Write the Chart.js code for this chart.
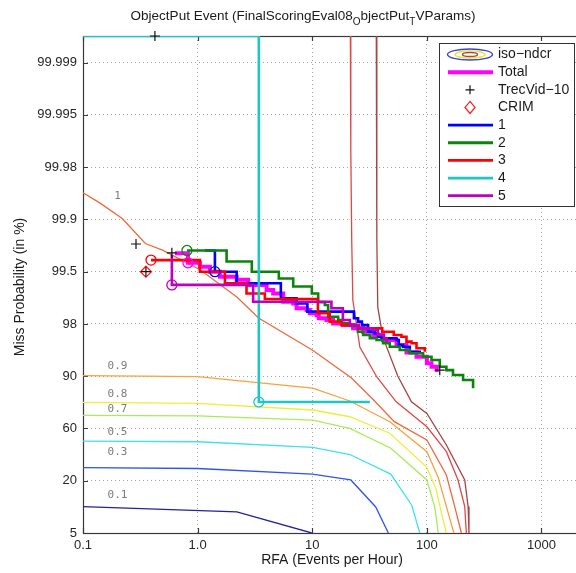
<!DOCTYPE html>
<html>
<head>
<meta charset="utf-8">
<script src="https://cdn.jsdelivr.net/npm/chart.js@4.4.1/dist/chart.umd.min.js"></script>
<style>
  html, body { margin: 0; padding: 0; background: #fff; overflow: hidden; }
</style>
</head>
<body>
<canvas id="det" width="576" height="573"></canvas>
<script>
/* DET plot: ObjectPut event, miss probability vs RFA */

// axes (x = RFA in events per hour, y = Pmiss in %)
const xTickValues = [0.1, 1, 10, 100, 1000];
const xTickLabels = ["0.1", "1.0", "10", "100", "1000"];
const yTickValues = [5, 20, 60, 90, 98, 99.5, 99.9, 99.98, 99.995, 99.999];
const yTickLabels = ["5", "20", "60", "90", "98", "99.5", "99.9", "99.98", "99.995", "99.999"];
const PMISS_TOP = 99.99956;

// iso-ndcr contours
const iso01X = [0.1, 2.2, 9.9];
const iso01Y = [12.9, 11.4, 5];
const iso03X = [0.1, 1.0, 10, 21.7, 35.8, 46.1];
const iso03Y = [32.7, 32.0, 26.8, 20.8, 12.8, 5];
const iso05X = [0.1, 1.0, 10.1, 21.3, 48.4, 73.8, 86.7];
const iso05Y = [52.7, 52.3, 48.6, 43.5, 26.8, 13.3, 5];
const iso07X = [0.1, 1.0, 10.1, 21.3, 48.5, 100, 117, 125.7];
const iso07Y = [71.8, 71.3, 68.0, 60.0, 48.0, 20.8, 12.9, 5];
const iso08X = [0.1, 1.0, 10.1, 21.3, 47.5, 100, 121, 134, 148];
const iso08Y = [80.0, 79.5, 75.5, 70.7, 57.4, 33.0, 17.5, 11.0, 5];
const iso09X = [0.1, 1.0, 10.1, 21.3, 47.5, 100, 125, 148, 172];
const iso09Y = [90.2, 89.9, 86.3, 80.7, 66.6, 45.6, 24.2, 12.9, 5];
const iso1X = [0.1, 0.14, 0.22, 0.35, 0.5, 1.05, 2.2, 3.4, 10, 22, 35, 52, 100, 148, 175, 200];
const iso1Y = [99.956, 99.94, 99.903, 99.79, 99.74, 99.53, 99.02, 98.29, 95.54, 89.5, 80.7, 66.6, 53.4, 25.9, 12.9, 5];
const iso11X = [21.5, 21.7, 22.1, 22.6, 26, 36.6, 54, 100, 148, 187, 214, 221];
const iso11Y = [99.9996, 99.987, 99.81, 98.94, 95.94, 89.8, 80.3, 61.8, 45.6, 20.8, 12.9, 5];
const iso12X = [36.2, 36.6, 37.3, 41.3, 55.7, 73.4, 100, 148, 214, 229, 233];
const iso12Y = [99.9996, 99.81, 98.72, 97.0, 90.06, 80.3, 73.2, 50.2, 20.8, 12.9, 5];

const isoLabels = ["0.1", "0.3", "0.5", "0.7", "0.8", "0.9", "1"];
const isoLabelX = [0.2, 0.2, 0.2, 0.2, 0.2, 0.2, 0.2];
const isoLabelY = [16.1, 45.4, 58.1, 76.1, 84.0, 92.7, 99.951];

// system curves
const totalX = [0.634, 0.823, 1.047, 1.28, 1.565, 2.19, 2.76, 4.0, 4.56, 5.58, 6.82, 7.30, 8.92, 9.53, 10.9, 11.4, 13.3, 15.2, 18.6, 22.7, 27.8, 34.0, 41.5, 54.3, 66.4, 81.2, 100, 109.7, 122];
const totalY = [99.716, 99.62, 99.57, 99.5, 99.43, 99.38, 99.29, 99.19, 99.11, 98.89, 98.84, 98.68, 98.62, 98.49, 98.42, 98.28, 98.2, 98.03, 97.93, 97.71, 97.46, 97.19, 96.72, 96.18, 95.18, 94.52, 93.28, 92.54, 91.2];
const sys1X = [1.158, 1.415, 2.19, 5.32, 7.30, 9.07, 23.1, 25.1, 27.1, 30.7, 35.1, 37.5, 40.2, 54.3, 56.9, 62.0, 71.0, 86.7];
const sys1Y = [99.74, 99.5, 99.32, 98.99, 98.84, 98.56, 98.28, 98.12, 97.93, 97.46, 97.33, 97.04, 96.89, 96.72, 96.18, 95.97, 95.3, 94.95];
const sys2X = [0.807, 1.79, 2.97, 5.11, 6.82, 9.92, 11.26, 12.88, 13.76, 16.82, 18.1, 21.3, 25.0, 27.8, 31.8, 36.4, 41.5, 47.5, 58.0, 71.0, 92.7, 109.7, 129.5, 148, 169, 207, 253];
const sys2Y = [99.74, 99.635, 99.5, 99.40, 99.26, 99.11, 98.88, 98.79, 98.35, 98.2, 98.03, 97.87, 97.46, 97.19, 96.89, 96.72, 96.37, 95.97, 95.54, 95.06, 94.52, 93.93, 92.54, 91.7, 90.36, 88.95, 86.2];
const sys3X = [0.392, 1.047, 1.73, 2.67, 3.86, 11.2, 14.2, 18.0, 25.5, 40.8, 51.4, 60.0, 66.4, 73.4, 81.2, 95.9];
const sys3Y = [99.65, 99.5, 99.32, 99.11, 98.97, 98.5, 98.12, 97.93, 97.71, 97.46, 97.19, 97.04, 96.55, 96.37, 95.77, 95.3];
const sys4X = [0.1, 3.42, 31.8];
const sys4Y = [99.99956, 80.2, 80.2];
const sys5X = [0.596, 0.596, 3.05, 14.7, 18.5, 21.3, 25.0, 34.0, 37.3, 42.1, 44.7];
const sys5Y = [99.70, 99.29, 98.89, 98.68, 98.2, 97.93, 97.71, 97.59, 97.19, 96.89, 96.52];

// markers
const trecvidX = [0.29, 0.354, 0.596, 0.424, 129.5];
const trecvidY = [99.787, 99.5, 99.72, 99.99956, 91.7];
const crimX = [0.354];
const crimY = [99.5];
const decisionX = [0.823, 1.415, 0.807, 0.392, 3.42, 0.596];
const decisionY = [99.62, 99.5, 99.74, 99.65, 80.2, 99.29];

const sysColors = { total: "#ff00ff", s1: "#0000ff", s2: "#0a850a", s3: "#ff0000", s4: "#1fc6c6", s5: "#bf00bf" };
const isoColors = ["#22229a", "#3355e6", "#3fe0f0", "#a8ec5a", "#f0ec3a", "#f7a23e", "#f2683c", "#e04848", "#a84444"];

const FONT = '"Liberation Sans", Arial, Helvetica, sans-serif';

// probability axis: piecewise linear in log10(100 - p) between the tick values
const tickLogs = yTickValues.map((v) => Math.log10(100 - v));
function toAxis(p) {
  const L = Math.log10(Math.max(100 - p, 1e-9));
  let i = 0;
  while (i < tickLogs.length - 2 && L < tickLogs[i + 1]) i++;
  return i + (tickLogs[i] - L) / (tickLogs[i] - tickLogs[i + 1]);
}
function pts(xs, ys) {
  return xs.map((x, i) => ({ x, y: toAxis(ys[i]) }));
}

const isoSets = [
  [iso01X, iso01Y], [iso03X, iso03Y], [iso05X, iso05Y], [iso07X, iso07Y], [iso08X, iso08Y],
  [iso09X, iso09Y], [iso1X, iso1Y], [iso11X, iso11Y], [iso12X, iso12Y],
];

const datasets = [];
isoSets.forEach(([xs, ys], i) => {
  datasets.push({
    data: pts(xs, ys), borderColor: isoColors[i], borderWidth: 1.3,
    pointRadius: 0, fill: false, tension: 0, order: 30,
  });
});

// DET staircases: horizontal run first, then the drop
function sysLine(xs, ys, color, width, order) {
  return {
    data: pts(xs, ys), borderColor: color, borderWidth: width, stepped: "before",
    pointRadius: 0, fill: false, order,
  };
}
datasets.push(sysLine(totalX, totalY, sysColors.total, 4, 12));
datasets.push(sysLine(sys1X, sys1Y, sysColors.s1, 2.6, 11));
datasets.push(sysLine(sys2X, sys2Y, sysColors.s2, 2.6, 10));
datasets.push(sysLine(sys3X, sys3Y, sysColors.s3, 2.6, 9));
datasets.push(sysLine(sys4X, sys4Y, sysColors.s4, 2.6, 8));
datasets.push(sysLine(sys5X, sys5Y, sysColors.s5, 2.6, 7));

datasets.push({
  data: pts(decisionX, decisionY), showLine: false, pointStyle: "circle", pointRadius: 5,
  pointBorderWidth: 1.3, pointBackgroundColor: "rgba(0,0,0,0)",
  pointBorderColor: [sysColors.total, sysColors.s1, sysColors.s2, sysColors.s3, sysColors.s4, sysColors.s5],
  order: 3, clip: false,
});
datasets.push({
  data: pts(crimX, crimY), showLine: false, pointStyle: "rectRot", pointRadius: 5.5,
  pointBorderWidth: 1.3, pointBackgroundColor: "rgba(0,0,0,0)", pointBorderColor: "#ff2020",
  order: 2, clip: false,
});
datasets.push({
  data: pts(trecvidX, trecvidY), showLine: false, pointStyle: "cross", pointRadius: 5,
  pointBorderWidth: 1.2, pointBorderColor: "#111", order: 1, clip: false,
});

const legendItems = [
  { label: "iso\u2212ndcr", kind: "iso" },
  { label: "Total", kind: "line", color: sysColors.total, width: 4 },
  { label: "TrecVid\u221210", kind: "plus" },
  { label: "CRIM", kind: "diamond" },
  { label: "1", kind: "line", color: sysColors.s1, width: 2.8 },
  { label: "2", kind: "line", color: sysColors.s2, width: 2.8 },
  { label: "3", kind: "line", color: sysColors.s3, width: 2.8 },
  { label: "4", kind: "line", color: sysColors.s4, width: 2.8 },
  { label: "5", kind: "line", color: sysColors.s5, width: 2.8 },
];

const isoLabelPlugin = {
  id: "isoLabels",
  beforeDatasetsDraw(chart) {
    const { ctx, scales } = chart;
    ctx.save();
    ctx.font = '11px "DejaVu Sans Mono", monospace';
    ctx.fillStyle = "#7c7c7c";
    ctx.textAlign = "center";
    ctx.textBaseline = "middle";
    isoLabels.forEach((t, i) => {
      ctx.fillText(t, scales.x.getPixelForValue(isoLabelX[i]), scales.y.getPixelForValue(toAxis(isoLabelY[i])));
    });
    ctx.restore();
  },
};

// axes box under the curves, so the cyan run along the top stays visible
const framePlugin = {
  id: "frame",
  beforeDatasetsDraw(chart) {
    const { ctx, chartArea: a, scales } = chart;
    ctx.save();
    ctx.strokeStyle = "#3a3a3a";
    ctx.lineWidth = 1.2;
    ctx.strokeRect(a.left + 0.5, a.top + 0.5, a.right - a.left + 4, a.bottom - a.top);
    ctx.beginPath();
    xTickValues.forEach((v) => {
      const px = Math.round(scales.x.getPixelForValue(v)) + 0.5;
      ctx.moveTo(px, a.bottom); ctx.lineTo(px, a.bottom - 5);
      ctx.moveTo(px, a.top); ctx.lineTo(px, a.top + 5);
    });
    yTickValues.forEach((v, i) => {
      const py = Math.round(scales.y.getPixelForValue(i)) + 0.5;
      ctx.moveTo(a.left, py); ctx.lineTo(a.left + 5, py);
    });
    ctx.stroke();
    ctx.restore();
  },
};

const textPlugin = {
  id: "texts",
  afterDraw(chart) {
    const { ctx } = chart;
    ctx.save();
    ctx.fillStyle = "#1a1a1a";
    // title with TeX-style subscripts
    const parts = [["ObjectPut Event (FinalScoringEval08", 0], ["O", 1], ["bjectPut", 0], ["T", 1], ["VParams)", 0]];
    const big = "13.5px " + FONT, small = "10px " + FONT;
    let w = 0;
    parts.forEach(([t, s]) => { ctx.font = s ? small : big; w += ctx.measureText(t).width; });
    let x = 303 - w / 2;
    ctx.textBaseline = "alphabetic";
    ctx.textAlign = "left";
    parts.forEach(([t, s]) => {
      ctx.font = s ? small : big;
      ctx.fillText(t, x, s ? 24.5 : 20);
      x += ctx.measureText(t).width;
    });
    // axis titles
    ctx.font = "14px " + FONT;
    ctx.textAlign = "center";
    ctx.textBaseline = "middle";
    ctx.fillText("RFA (Events per Hour)", 332, 560);
    ctx.translate(20, 287);
    ctx.rotate(-Math.PI / 2);
    ctx.fillText("Miss Probability (in %)", 0, 0);
    ctx.restore();

    // legend
    ctx.save();
    const bx = 439.5, by = 43.5, bw = 135, bh = 163;
    ctx.fillStyle = "#fff";
    ctx.fillRect(bx, by, bw, bh);
    ctx.strokeStyle = "#333";
    ctx.lineWidth = 1;
    ctx.strokeRect(bx, by, bw, bh);
    ctx.font = "14px " + FONT;
    ctx.textAlign = "left";
    ctx.textBaseline = "middle";
    legendItems.forEach((it, i) => {
      const y = 54.5 + i * 17.65;
      const cx = 470;
      if (it.kind === "line") {
        ctx.strokeStyle = it.color; ctx.lineWidth = it.width;
        ctx.beginPath(); ctx.moveTo(448, y); ctx.lineTo(493, y); ctx.stroke();
      } else if (it.kind === "iso") {
        [["#3a44c4", 22.5, 5.5], ["#eee22a", 15, 3.6], ["#a84444", 7.5, 2]].forEach(([c, rx, ry]) => {
          ctx.strokeStyle = c; ctx.lineWidth = 1.4;
          ctx.beginPath(); ctx.ellipse(cx, y, rx, ry, 0, 0, Math.PI * 2); ctx.stroke();
        });
      } else if (it.kind === "plus") {
        ctx.strokeStyle = "#111"; ctx.lineWidth = 1.2;
        ctx.beginPath(); ctx.moveTo(cx - 4.5, y); ctx.lineTo(cx + 4.5, y);
        ctx.moveTo(cx, y - 4.5); ctx.lineTo(cx, y + 4.5); ctx.stroke();
      } else if (it.kind === "diamond") {
        ctx.strokeStyle = "#ff2020"; ctx.lineWidth = 1.3;
        ctx.beginPath(); ctx.moveTo(cx, y - 6); ctx.lineTo(cx + 5, y); ctx.lineTo(cx, y + 6);
        ctx.lineTo(cx - 5, y); ctx.closePath(); ctx.stroke();
      }
      ctx.fillStyle = "#1a1a1a";
      ctx.fillText(it.label, 498, y);
    });
    ctx.restore();
  },
};

const tickFont = { family: FONT, size: 13 };

new Chart(document.getElementById("det"), {
  type: "line",
  data: { datasets },
  options: {
    responsive: false,
    animation: false,
    events: [],
    layout: { autoPadding: false, padding: { top: 36, left: 0, right: 0, bottom: 0 } },
    plugins: { legend: { display: false }, tooltip: { enabled: false }, title: { display: false } },
    scales: {
      x: {
        type: "logarithmic",
        min: 0.1,
        max: 2000,
        afterBuildTicks: (s) => { s.ticks = xTickValues.map((v) => ({ value: v })); },
        afterFit: (s) => { s.height = 40; },
        grid: { color: "#a4a4a4", lineWidth: 1, drawTicks: false },
        border: { display: false, dash: [1, 3] },
        ticks: {
          autoSkip: false, maxRotation: 0, padding: 5, color: "#262626", font: tickFont,
          callback: (v) => { const k = xTickValues.indexOf(v); return k >= 0 ? xTickLabels[k] : ""; },
        },
      },
      y: {
        type: "linear",
        min: 0,
        max: toAxis(PMISS_TOP),
        afterBuildTicks: (s) => { s.ticks = yTickValues.map((v, i) => ({ value: i })); },
        afterFit: (s) => { s.width = 83; },
        grid: { color: "#a4a4a4", lineWidth: 1, drawTicks: false },
        border: { display: false, dash: [1, 3] },
        ticks: {
          padding: 6, color: "#262626", font: tickFont,
          callback: (v) => yTickLabels[Math.round(v)],
        },
      },
    },
  },
  plugins: [isoLabelPlugin, framePlugin, textPlugin],
});
</script>
</body>
</html>
